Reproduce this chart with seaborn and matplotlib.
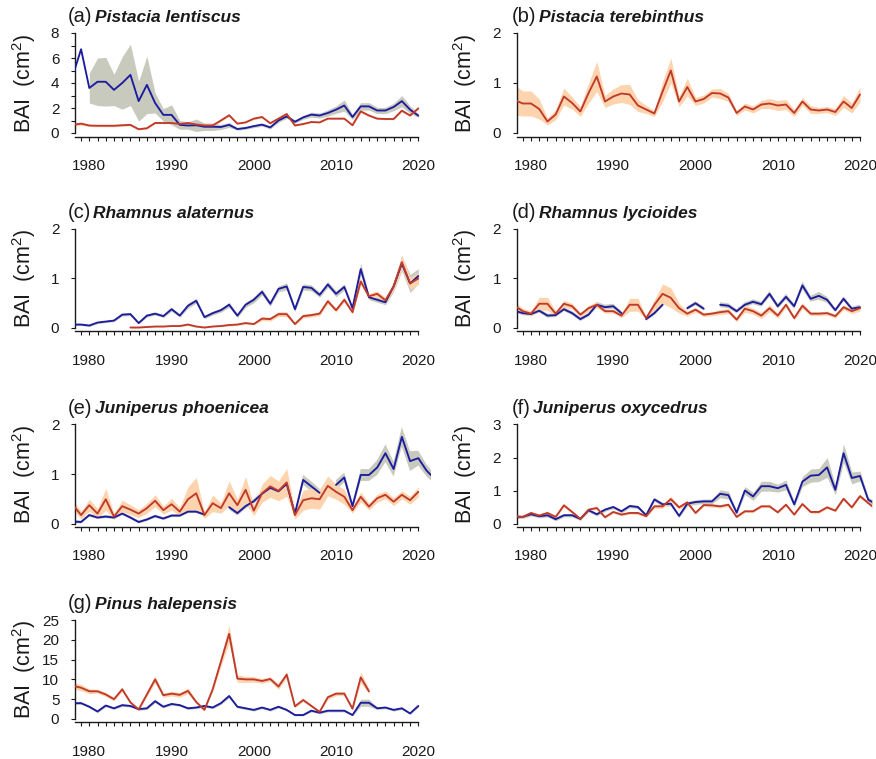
import numpy as np
import pandas as pd
import matplotlib
matplotlib.use("Agg")
import matplotlib.pyplot as plt
import seaborn as sns

nan = np.nan

# ---------------------------------------------------------------- data ----
YEARS = list(range(1978, 2021))
YEARS_EXT = list(range(1978, 2023))
XTICK_LABELS = [1980, 1990, 2000, 2010, 2020]

# (a) Pistacia lentiscus
a_blue = [4.6, 6.7, 3.6, 4.1, 4.1, 3.45, 4.0, 4.65, 2.55, 3.85,
          2.4, 1.45, 1.45, 0.65, 0.6, 0.62, 0.5, 0.5, 0.48, 0.65,
          0.32, 0.4, 0.55, 0.67, 0.45, 1.0, 1.33, 0.9, 1.25, 1.47,
          1.4, 1.6, 1.87, 2.2, 1.28, 2.13, 2.13, 1.8, 1.8, 2.08,
          2.55, 1.87, 1.39]
a_blue_se = [nan, nan, 1.2, 1.9, 1.95, 1.25, 2.1, 2.45, 1.6, 2.3,
             0.8, 0.5, 0.8, 0.35, 0.3, 0.5, 0.3, 0.3, 0.2, 0.2,
             0.1, 0.1, 0.12, 0.12, 0.12, 0.15, 0.15, 0.12, 0.15, 0.2,
             0.2, 0.25, 0.3, 0.45, 0.2, 0.3, 0.3, 0.25, 0.25, 0.3,
             0.45, 0.3, 0.15]
a_red = [0.65, 0.75, 0.6, 0.58, 0.58, 0.58, 0.62, 0.65, 0.3, 0.38,
         0.8, 0.8, 0.8, 0.72, 0.8, 0.68, 0.6, 0.6, 1.0, 1.42,
         0.75, 0.85, 1.15, 1.28, 0.78, 1.15, 1.52, 0.6, 0.72, 0.88,
         0.85, 1.15, 1.15, 1.15, 0.62, 1.73, 1.4, 1.15, 1.12, 1.12,
         1.79, 1.4, 1.97]
a_red_se = [0.12, 0.12, 0.08, 0.08, 0.08, 0.08, 0.08, 0.08, 0.06, 0.06,
            0.06, 0.05, 0.05, 0.05, 0.05, 0.05, 0.05, 0.05, 0.08, 0.1,
            0.05, 0.05, 0.08, 0.08, 0.05, 0.08, 0.1, 0.05, 0.05, 0.05,
            0.05, 0.06, 0.06, 0.06, 0.05, 0.1, 0.08, 0.06, 0.06, 0.06,
            0.1, 0.08, 0.1]

# (b) Pistacia terebinthus
b_red = [0.66, 0.59, 0.59, 0.48, 0.23, 0.37, 0.73, 0.6, 0.43, 0.8,
         1.13, 0.63, 0.73, 0.79, 0.77, 0.55, 0.47, 0.39, 0.83, 1.25,
         0.63, 0.92, 0.63, 0.68, 0.8, 0.79, 0.71, 0.4, 0.53, 0.47,
         0.57, 0.59, 0.55, 0.57, 0.4, 0.63, 0.47, 0.45, 0.47, 0.42,
         0.63, 0.5, 0.77]
b_red_se = [0.3, 0.25, 0.25, 0.2, 0.07, 0.1, 0.17, 0.12, 0.1, 0.2,
            0.3, 0.12, 0.15, 0.18, 0.2, 0.12, 0.08, 0.06, 0.2, 0.25,
            0.1, 0.18, 0.08, 0.08, 0.08, 0.1, 0.08, 0.05, 0.07, 0.07,
            0.08, 0.1, 0.1, 0.1, 0.07, 0.08, 0.08, 0.06, 0.06, 0.07,
            0.12, 0.1, 0.15]

# (c) Rhamnus alaternus
c_blue = [0.07, 0.07, 0.05, 0.11, 0.13, 0.15, 0.27, 0.28, 0.1, 0.25,
          0.29, 0.24, 0.38, 0.25, 0.45, 0.55, 0.22, 0.3, 0.36, 0.47,
          0.25, 0.47, 0.57, 0.73, 0.49, 0.79, 0.84, 0.38, 0.83, 0.81,
          0.67, 0.88, 0.69, 0.83, 0.4, 1.19, 0.62, 0.57, 0.52, 0.84,
          1.3, 0.9, 1.05]
c_blue_se = [0.02, 0.02, 0.02, 0.02, 0.02, 0.02, 0.03, 0.03, 0.02, 0.03,
             0.03, 0.03, 0.04, 0.03, 0.05, 0.05, 0.03, 0.04, 0.04, 0.05,
             0.04, 0.05, 0.06, 0.06, 0.05, 0.06, 0.07, 0.05, 0.06, 0.06,
             0.05, 0.06, 0.06, 0.06, 0.04, 0.12, 0.05, 0.05, 0.05, 0.1,
             0.15, 0.18, 0.15]
c_red = [nan, nan, nan, nan, nan, nan, nan, 0.01, 0.01, 0.02,
         0.03, 0.03, 0.04, 0.04, 0.07, 0.03, 0.01, 0.03, 0.04, 0.06,
         0.07, 0.1, 0.08, 0.19, 0.18, 0.28, 0.28, 0.08, 0.24, 0.26,
         0.29, 0.54, 0.36, 0.57, 0.32, 0.94, 0.64, 0.69, 0.56, 0.84,
         1.33, 0.9, 1.0]
c_red_se = [nan, nan, nan, nan, nan, nan, nan, 0.01, 0.01, 0.01,
            0.01, 0.01, 0.01, 0.01, 0.02, 0.01, 0.01, 0.01, 0.01, 0.02,
            0.02, 0.02, 0.02, 0.04, 0.04, 0.05, 0.05, 0.02, 0.04, 0.04,
            0.04, 0.05, 0.04, 0.05, 0.04, 0.06, 0.06, 0.06, 0.06, 0.08,
            0.15, 0.12, 0.12]

# (d) Rhamnus lycioides
d_blue = [0.35, 0.3, 0.28, 0.35, 0.25, 0.26, 0.38, 0.3, 0.18, 0.27,
          0.47, 0.42, 0.44, 0.3, nan, nan, 0.18, 0.3, 0.47, nan,
          nan, 0.4, 0.5, 0.39, nan, 0.47, 0.45, 0.34, 0.47, 0.53,
          0.48, 0.69, 0.44, 0.63, 0.44, 0.86, 0.59, 0.65, 0.57, 0.36,
          0.59, 0.39, 0.42]
d_blue_se = [0.04, 0.04, 0.04, 0.04, 0.04, 0.04, 0.04, 0.04, 0.04, 0.04,
             0.06, 0.05, 0.05, 0.04, nan, nan, 0.04, 0.04, 0.04, nan,
             nan, 0.04, 0.04, 0.04, nan, 0.05, 0.05, 0.04, 0.05, 0.05,
             0.05, 0.06, 0.05, 0.06, 0.05, 0.08, 0.06, 0.08, 0.06, 0.04,
             0.05, 0.04, 0.05]
d_red = [0.45, 0.34, 0.29, 0.49, 0.49, 0.29, 0.49, 0.44, 0.27, 0.4,
         0.47, 0.34, 0.34, 0.25, 0.47, 0.47, 0.2, 0.47, 0.69, 0.61,
         0.4, 0.29, 0.37, 0.27, 0.29, 0.32, 0.34, 0.17, 0.39, 0.34,
         0.25, 0.4, 0.25, 0.47, 0.2, 0.45, 0.29, 0.29, 0.3, 0.24,
         0.42, 0.34, 0.4]
d_red_se = [0.08, 0.06, 0.05, 0.13, 0.13, 0.05, 0.07, 0.06, 0.04, 0.06,
            0.06, 0.04, 0.04, 0.04, 0.13, 0.13, 0.03, 0.1, 0.2, 0.2,
            0.1, 0.05, 0.05, 0.04, 0.04, 0.05, 0.05, 0.04, 0.07, 0.06,
            0.06, 0.07, 0.05, 0.05, 0.04, 0.06, 0.04, 0.04, 0.04, 0.04,
            0.05, 0.05, 0.06]

# (e) Juniperus phoenicea
e_blue = [0.04, 0.03, 0.17, 0.12, 0.14, 0.12, 0.2, 0.12, 0.03, 0.08,
          0.15, 0.1, 0.16, 0.16, 0.24, 0.24, 0.18, nan, nan, 0.33,
          0.21, 0.35, 0.45, 0.6, 0.72, 0.65, 0.8, 0.2, 0.88, 0.75,
          0.62, nan, 0.78, 0.93, 0.35, 0.98, 0.98, 1.13, 1.42, 1.1,
          1.75, 1.26, 1.32, 1.07, 0.9]
e_blue_se = [0.03, 0.03, 0.03, 0.03, 0.03, 0.03, 0.03, 0.03, 0.03, 0.03,
             0.03, 0.03, 0.03, 0.03, 0.03, 0.03, 0.03, nan, nan, 0.05,
             0.05, 0.05, 0.05, 0.05, 0.05, 0.05, 0.05, 0.05, 0.1, 0.1,
             0.08, nan, 0.1, 0.1, 0.06, 0.12, 0.12, 0.15, 0.18, 0.15,
             0.2, 0.2, 0.15, 0.12, 0.1]
e_red = [0.38, 0.17, 0.37, 0.2, 0.49, 0.14, 0.35, 0.28, 0.2, 0.31,
         0.46, 0.27, 0.39, 0.24, 0.49, 0.61, 0.17, 0.41, 0.31, 0.61,
         0.37, 0.68, 0.26, 0.61, 0.75, 0.66, 0.83, 0.17, 0.47, 0.51,
         0.49, 0.76, 0.64, 0.54, 0.27, 0.54, 0.34, 0.51, 0.58, 0.44,
         0.58, 0.47, 0.64, nan, nan]
e_red_se = [0.1, 0.08, 0.12, 0.1, 0.22, 0.06, 0.12, 0.1, 0.08, 0.1,
            0.12, 0.08, 0.12, 0.08, 0.25, 0.32, 0.06, 0.17, 0.1, 0.25,
            0.12, 0.27, 0.1, 0.18, 0.22, 0.2, 0.28, 0.08, 0.2, 0.2,
            0.2, 0.2, 0.15, 0.15, 0.06, 0.1, 0.07, 0.08, 0.08, 0.08,
            0.08, 0.08, 0.1, nan, nan]

# (f) Juniperus oxycedrus
f_blue = [0.2, 0.2, 0.28, 0.22, 0.25, 0.13, 0.25, 0.25, 0.14, 0.4,
          0.28, 0.42, 0.5, 0.37, 0.53, 0.5, 0.25, 0.73, 0.58, 0.6,
          0.23, 0.6, 0.65, 0.67, 0.67, 0.9, 0.86, 0.33, 1.0, 0.82,
          1.13, 1.13, 1.07, 1.17, 0.58, 1.27, 1.45, 1.47, 1.7, 1.02,
          2.13, 1.38, 1.44, 0.72, 0.58]
f_blue_se = [0.05, 0.05, 0.05, 0.05, 0.05, 0.05, 0.05, 0.05, 0.05, 0.05,
             0.05, 0.05, 0.05, 0.05, 0.05, 0.05, 0.05, 0.06, 0.06, 0.06,
             0.05, 0.07, 0.07, 0.07, 0.07, 0.12, 0.12, 0.05, 0.12, 0.12,
             0.15, 0.15, 0.12, 0.15, 0.08, 0.15, 0.2, 0.2, 0.3, 0.15,
             0.28, 0.18, 0.15, 0.08, 0.06]
f_red = [0.22, 0.2, 0.32, 0.24, 0.32, 0.2, 0.55, 0.35, 0.14, 0.42,
         0.47, 0.19, 0.35, 0.27, 0.32, 0.32, 0.22, 0.52, 0.52, 0.74,
         0.49, 0.64, 0.32, 0.56, 0.55, 0.52, 0.57, 0.2, 0.37, 0.37,
         0.52, 0.52, 0.34, 0.57, 0.27, 0.59, 0.35, 0.35, 0.49, 0.39,
         0.75, 0.49, 0.83, 0.62, 0.42]
f_red_se = [0.04, 0.04, 0.04, 0.04, 0.04, 0.04, 0.05, 0.04, 0.03, 0.04,
            0.04, 0.03, 0.04, 0.04, 0.04, 0.04, 0.03, 0.06, 0.06, 0.08,
            0.06, 0.06, 0.04, 0.05, 0.05, 0.05, 0.05, 0.03, 0.04, 0.04,
            0.04, 0.04, 0.04, 0.04, 0.03, 0.04, 0.04, 0.04, 0.04, 0.04,
            0.05, 0.04, 0.05, 0.04, 0.04]

# (g) Pinus halepensis
g_blue = [4.0, 4.0, 3.1, 1.9, 3.4, 2.7, 3.5, 3.3, 2.5, 2.7,
          4.5, 3.1, 3.8, 3.5, 2.7, 2.9, 3.3, 2.9, 4.0, 5.8,
          3.1, 2.7, 2.3, 2.9, 2.3, 3.1, 2.3, 1.0, 1.0, 2.1,
          1.6, 2.1, 2.1, 2.1, 1.0, 4.1, 4.1, 2.7, 2.9, 2.3,
          2.7, 1.4, 3.3]
g_blue_se = [0.3, 0.3, 0.3, 0.3, 0.3, 0.3, 0.3, 0.3, 0.3, 0.3,
             0.4, 0.3, 0.3, 0.3, 0.3, 0.3, 0.3, 0.3, 0.3, 0.4,
             0.3, 0.3, 0.3, 0.3, 0.3, 0.3, 0.3, 0.2, 0.2, 0.3,
             0.3, 0.3, 0.3, 0.3, 0.2, 0.9, 0.9, 0.3, 0.3, 0.3,
             0.3, 0.2, 0.3]
g_red = [8.4, 7.9, 7.0, 7.0, 6.2, 5.0, 7.5, 4.2, 2.4, 6.2,
         10.0, 6.0, 6.4, 6.1, 7.1, 4.3, 2.3, 7.5, 14.5, 21.5,
         10.2, 10.0, 10.0, 9.6, 10.1, 8.2, 11.2, 3.2, 4.8, 3.3,
         1.8, 5.5, 6.4, 6.4, 2.6, 10.5, 7.0, nan, nan, nan,
         nan, nan, nan]
g_red_se = [0.8, 0.8, 0.6, 0.5, 0.5, 0.4, 0.5, 0.3, 0.2, 0.5,
            0.9, 0.5, 0.6, 0.6, 0.7, 0.4, 0.2, 0.6, 1.2, 2.2,
            0.9, 0.8, 0.7, 0.6, 0.6, 0.7, 0.8, 0.3, 0.4, 0.3,
            0.2, 0.5, 0.5, 0.5, 0.3, 1.4, 0.6, nan, nan, nan,
            nan, nan, nan]

# --------------------------------------------------------------- style ----
sns.set_style("ticks")
plt.rcParams["font.family"] = ["Liberation Sans", "DejaVu Sans"]
plt.rcParams["mathtext.default"] = "regular"

BLUE = "#1c1c9e"
RED = "#bf3a2b"
BLUE_BAND = "#c9cabe"
RED_BAND = "#fdd4ae"
INK = "#1a1a1a"

W, H, DPI = 876, 759, 100
XLIM = (1978.3, 2021.5)
PX_PER_YEAR = 8.225
COL_X1980 = [89.3, 531.0]          # pixel x of the year 1980 in each column
COL_TEXT_X = [68, 512]
COL_YLABEL_X = [24, 465]
ROW_Y0 = [133, 328, 523.5, 719]    # pixel y of the zero line in each row
ROW_YTOP = [33, 229, 424.5, 620]   # pixel y of the top tick in each row

panels = [
    dict(tag="(a)", name="Pistacia lentiscus", row=0, col=0, years=YEARS,
         blue=a_blue, blue_se=a_blue_se, red=a_red, red_se=a_red_se,
         ymax=8, yticks=[0, 2, 4, 6, 8], yminor=[1, 3, 5, 7]),
    dict(tag="(b)", name="Pistacia terebinthus", row=0, col=1, years=YEARS,
         blue=None, blue_se=None, red=b_red, red_se=b_red_se,
         ymax=2, yticks=[0, 1, 2], yminor=[]),
    dict(tag="(c)", name="Rhamnus alaternus", row=1, col=0, years=YEARS,
         blue=c_blue, blue_se=c_blue_se, red=c_red, red_se=c_red_se,
         ymax=2, yticks=[0, 1, 2], yminor=[]),
    dict(tag="(d)", name="Rhamnus lycioides", row=1, col=1, years=YEARS,
         blue=d_blue, blue_se=d_blue_se, red=d_red, red_se=d_red_se,
         ymax=2, yticks=[0, 1, 2], yminor=[]),
    dict(tag="(e)", name="Juniperus phoenicea", row=2, col=0, years=YEARS_EXT,
         blue=e_blue, blue_se=e_blue_se, red=e_red, red_se=e_red_se,
         ymax=2, yticks=[0, 1, 2], yminor=[]),
    dict(tag="(f)", name="Juniperus oxycedrus", row=2, col=1, years=YEARS_EXT,
         blue=f_blue, blue_se=f_blue_se, red=f_red, red_se=f_red_se,
         ymax=3, yticks=[0, 1, 2, 3], yminor=[]),
    dict(tag="(g)", name="Pinus halepensis", row=3, col=0, years=YEARS,
         blue=g_blue, blue_se=g_blue_se, red=g_red, red_se=g_red_se,
         ymax=25, yticks=[0, 5, 10, 15, 20, 25], yminor=[]),
]


def draw_series(ax, years, mean, se, line_color, band_color, z):
    df = pd.DataFrame({"year": years, "bai": mean, "se": se}, dtype=float)
    ax.fill_between(df["year"], df["bai"] - df["se"], df["bai"] + df["se"],
                    color=band_color, lw=0, zorder=z)
    # missing years break the line into separate runs
    df["run"] = df["bai"].isna().cumsum()
    runs = df.dropna(subset=["bai"])
    sns.lineplot(data=runs, x="year", y="bai", units="run", estimator=None,
                 color=line_color, lw=1.35, ax=ax, zorder=z + 3, legend=False)


fig = plt.figure(figsize=(W / DPI, H / DPI), dpi=DPI)

for p in panels:
    y0, ytop = ROW_Y0[p["row"]], ROW_YTOP[p["row"]]
    span = y0 - ytop
    lo_pad, hi_pad = 0.035, 0.04
    left_px = COL_X1980[p["col"]] - (1980 - XLIM[0]) * PX_PER_YEAR
    width_px = (XLIM[1] - XLIM[0]) * PX_PER_YEAR
    bottom_px = y0 + lo_pad * span
    height_px = span * (1 + lo_pad + hi_pad)
    ax = fig.add_axes([left_px / W, 1 - bottom_px / H, width_px / W, height_px / H])

    if p["blue"] is not None:
        draw_series(ax, p["years"], p["blue"], p["blue_se"], BLUE, BLUE_BAND, 1)
    draw_series(ax, p["years"], p["red"], p["red_se"], RED, RED_BAND, 2)

    ymax = p["ymax"]
    ax.set_xlim(*XLIM)
    ax.set_ylim(-lo_pad * ymax, (1 + hi_pad) * ymax)
    ax.set_xticks(XTICK_LABELS)
    ax.set_xticks(range(1979, 2021), minor=True)
    ax.set_yticks(p["yticks"])
    ax.set_yticks(p["yminor"], minor=True)
    ax.set_xlabel("")
    ax.set_ylabel("")

    for side in ("top", "right"):
        ax.spines[side].set_visible(False)
    ax.spines["left"].set_bounds(0, ymax)
    ax.spines["bottom"].set_bounds(XLIM[0], 2020)
    for side in ("left", "bottom"):
        ax.spines[side].set_linewidth(1.0)
        ax.spines[side].set_color(INK)

    ax.tick_params(axis="both", which="both", direction="out", length=3,
                   width=0.8, color=INK, labelcolor=INK)
    ax.tick_params(axis="x", which="both", pad=13, labelsize=11)
    ax.tick_params(axis="y", which="both", pad=8.5, labelsize=11)

    # panel heading: tag in roman, species name in bold italic
    base_y = H - (ytop - 11)
    tag = fig.text(COL_TEXT_X[p["col"]] / W, base_y / H, p["tag"],
                   fontsize=14.5, va="baseline", ha="left", color=INK)
    ax.annotate(p["name"], xy=(1.0, base_y), xycoords=(tag, "figure pixels"),
                xytext=(1.5, 0), textcoords="offset points",
                fontsize=12.5, fontweight="bold", fontstyle="italic",
                va="baseline", ha="left", color=INK, annotation_clip=False)

    fig.text(COL_YLABEL_X[p["col"]] / W, 1 - ((y0 + ytop) / 2) / H,
             "BAI  (cm$^2$)", rotation=90, ha="center", va="center",
             fontsize=15.5, color=INK)

fig.savefig("out.png", dpi=DPI)
